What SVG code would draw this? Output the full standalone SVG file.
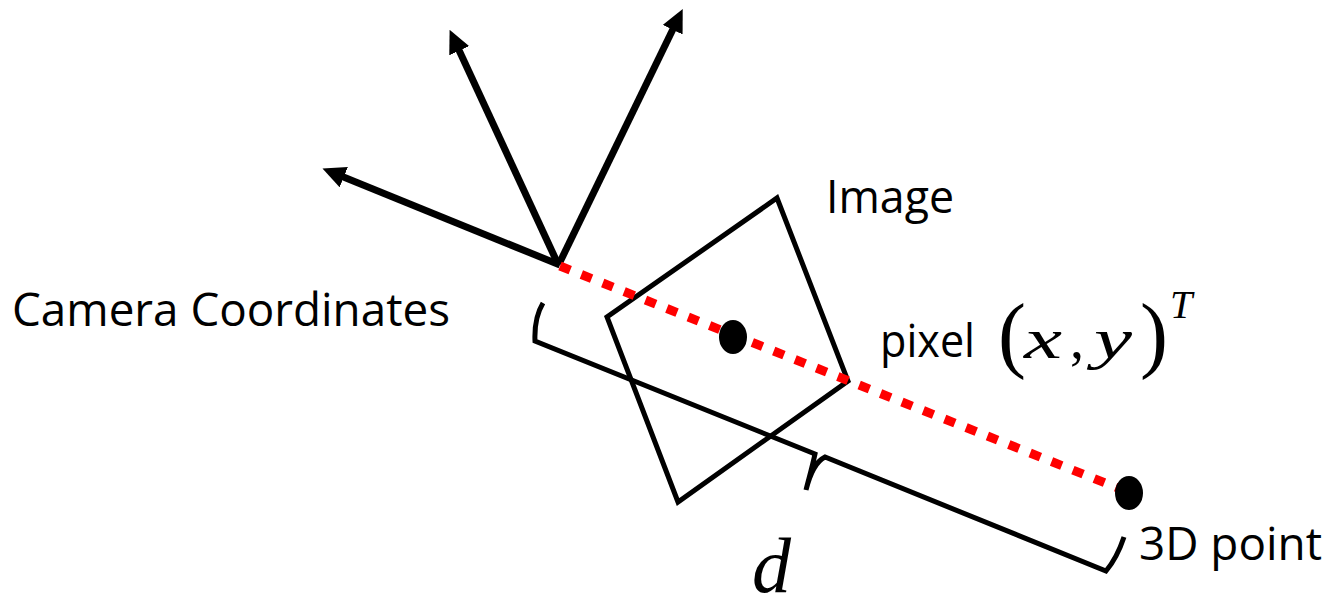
<svg xmlns="http://www.w3.org/2000/svg" width="1325" height="607" viewBox="0 0 1325 607">
  <defs>
    <marker id="ah" viewBox="0 0 23 22" refX="3" refY="11" markerWidth="23" markerHeight="22" markerUnits="userSpaceOnUse" orient="auto">
      <path d="M0,0 L23,11 L0,22 z" fill="#000"/>
    </marker>
    <style>
      .lbl { font-family: "Open Sans", "Liberation Sans", sans-serif; font-size: 45px; fill: #000; }
      .math { font-family: "Liberation Serif", "DejaVu Serif", serif; fill: #000; }
      .it { font-style: italic; }
      .axis { stroke: #000; stroke-width: 7; fill: none; marker-end: url(#ah); }
      .shape { stroke: #000; stroke-width: 5; fill: none; stroke-linejoin: miter; }
    </style>
  </defs>
  <rect width="1325" height="607" fill="#fff"/>

  <g id="camera-axes">
    <line class="axis" x1="560" y1="265" x2="341" y2="176"/>
    <line class="axis" x1="557" y1="262" x2="458" y2="48"/>
    <line class="axis" x1="559" y1="264" x2="674" y2="27"/>
  </g>

  <g id="image-plane">
    <polygon class="shape" points="777,198 848,381 678,502 607,317"/>
  </g>

  <g id="connectors">
    <line x1="560" y1="266" x2="1118" y2="488" stroke="#f00" stroke-width="9" stroke-dasharray="11 12"/>
    <path class="shape" d="M543,303 Q534,318 535,341 L815,454 C812,468 809,478 806,490 M806,490 C810,474 815,462 825,457 L1106,571 Q1117,558 1124,537"/>
  </g>

  <g id="pixel-point">
    <ellipse cx="733" cy="337" rx="14" ry="17" fill="#000"/>
  </g>
  <g id="world-point">
    <ellipse cx="1129" cy="493" rx="14" ry="17" fill="#000"/>
  </g>

  <g id="labels">
    <text class="lbl" x="12" y="326" textLength="438" lengthAdjust="spacingAndGlyphs">Camera Coordinates</text>
    <text class="lbl" x="826" y="213" textLength="128" lengthAdjust="spacingAndGlyphs">Image</text>
    <text class="lbl" x="880" y="357" textLength="95" lengthAdjust="spacingAndGlyphs">pixel</text>
    <text class="lbl" x="1139" y="560" textLength="183" lengthAdjust="spacingAndGlyphs">3D point</text>
    <text class="math" font-size="84" x="998" y="362">(</text>
    <text class="math it" font-size="56" x="1024" y="358" textLength="38" lengthAdjust="spacingAndGlyphs">x</text>
    <text class="math" font-size="56" x="1070" y="358">,</text>
    <text class="math it" font-size="56" x="1094" y="358" textLength="38" lengthAdjust="spacingAndGlyphs">y</text>
    <text class="math" font-size="84" x="1140" y="362">)</text>
    <text class="math it" font-size="40" x="1170" y="318">T</text>
    <text class="math it" font-size="78" x="752" y="592">d</text>
  </g>
</svg>
